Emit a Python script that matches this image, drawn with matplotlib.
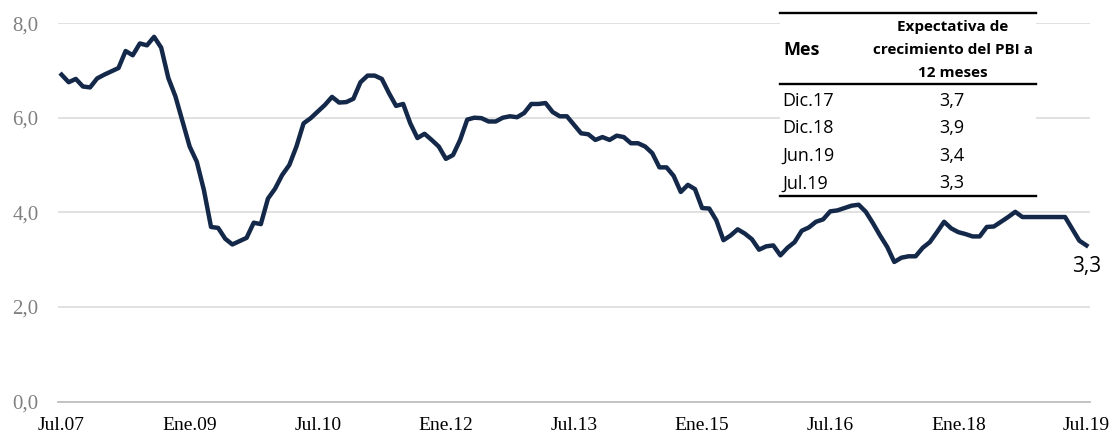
import numpy as np
import matplotlib.pyplot as plt

# Expectativa de crecimiento del PBI a 12 meses, mensual Jul.07 - Jul.19
expectativa = [
    6.91, 6.75, 6.82, 6.66, 6.64, 6.83, 6.91, 6.98, 7.05, 7.41, 7.32, 7.57,
    7.53, 7.71, 7.48, 6.84, 6.45, 5.92, 5.39, 5.07, 4.47, 3.69, 3.67, 3.44,
    3.32, 3.39, 3.46, 3.78, 3.75, 4.29, 4.50, 4.79, 5.00, 5.39, 5.88, 5.99,
    6.13, 6.27, 6.44, 6.32, 6.33, 6.40, 6.75, 6.89, 6.89, 6.82, 6.52, 6.25,
    6.29, 5.88, 5.57, 5.66, 5.53, 5.39, 5.13, 5.21, 5.53, 5.96, 6.00, 5.99,
    5.92, 5.92, 6.00, 6.03, 6.01, 6.10, 6.29, 6.29, 6.31, 6.12, 6.03, 6.03,
    5.85, 5.67, 5.65, 5.53, 5.59, 5.53, 5.62, 5.59, 5.46, 5.46, 5.39, 5.25,
    4.95, 4.95, 4.77, 4.43, 4.58, 4.49, 4.09, 4.08, 3.83, 3.41, 3.51, 3.64,
    3.55, 3.43, 3.21, 3.28, 3.30, 3.09, 3.25, 3.37, 3.61, 3.68, 3.80, 3.85,
    4.02, 4.04, 4.09, 4.14, 4.16, 4.01, 3.77, 3.51, 3.27, 2.95, 3.04, 3.07,
    3.07, 3.25, 3.37, 3.58, 3.80, 3.66, 3.58, 3.54, 3.49, 3.49, 3.69, 3.70,
    3.80, 3.90, 4.01, 3.90, 3.90, 3.90, 3.90, 3.90, 3.90, 3.90, 3.65, 3.40,
    3.30,
]

etiquetas_x = ['Jul.07', 'Ene.09', 'Jul.10', 'Ene.12', 'Jul.13',
               'Ene.15', 'Jul.16', 'Ene.18', 'Jul.19']
paso_etiquetas = 18  # meses entre etiquetas

# Tabla del recuadro
tabla_meses = ['Dic.17', 'Dic.18', 'Jun.19', 'Jul.19']
tabla_valores = [3.7, 3.9, 3.4, 3.3]
ultimo_valor = 3.3

AZUL = '#14294a'
W, H = 1115, 441

fig = plt.figure(figsize=(W / 100, H / 100), dpi=100)
ax = fig.add_axes([58 / W, (H - 401.5) / H, (1090 - 58) / W, (401.5 - 23.1) / H])

x = np.arange(len(expectativa))
ax.plot(x, expectativa, color=AZUL, linewidth=3.2, solid_joinstyle='round', zorder=3)

ax.set_xlim(-0.5, len(expectativa) - 0.5)
ax.set_ylim(0, 8)
ax.set_yticks([0, 2, 4, 6, 8])
ax.set_yticklabels([f'{v:.1f}'.replace('.', ',') for v in [0, 2, 4, 6, 8]],
                   family='Liberation Serif', fontsize=15, color='#808080')
ax.set_xticks(np.arange(0, len(expectativa), paso_etiquetas))
ax.set_xticklabels(etiquetas_x, family='Liberation Serif', fontsize=14, color='black')
ax.tick_params(axis='both', length=0)
ax.tick_params(axis='y', pad=14)
ax.tick_params(axis='x', pad=11)

ax.grid(axis='y', color='#d9d9d9', linewidth=1.1)
ax.set_axisbelow(True)
for lado in ['top', 'right', 'left']:
    ax.spines[lado].set_visible(False)
ax.spines['bottom'].set_color('#bfbfbf')
ax.spines['bottom'].set_linewidth(1.3)

ax.annotate(f'{ultimo_valor:.1f}'.replace('.', ','), xy=(x[-1], expectativa[-1]),
            xytext=(0, -15.5), textcoords='offset points', ha='center', va='center',
            family='Open Sans', fontsize=15, color='black')

# Recuadro con la tabla (coordenadas en pixeles de la figura)
tab = fig.add_axes([780 / W, (H - 196) / H, 256 / W, 184 / H])
tab.set_facecolor('white')
tab.set_xlim(780, 1036)
tab.set_ylim(196, 12)
tab.set_xticks([])
tab.set_yticks([])
for lado in tab.spines:
    tab.spines[lado].set_visible(False)

for yl in [12.5, 84.3, 195.5]:
    tab.plot([780, 1036], [yl, yl], color='black', linewidth=1.7, clip_on=False)

tab.text(783, 50, 'Mes', family='Open Sans', fontweight='bold', fontsize=13,
         ha='left', va='center')
encabezado = ['Expectativa de', 'crecimiento del PBI a', '12 meses']
for k, linea in enumerate(encabezado):
    tab.text(953, 27 + 23 * k, linea, family='Open Sans', fontweight='bold',
             fontsize=11, ha='center', va='center')

for k, (mes, val) in enumerate(zip(tabla_meses, tabla_valores)):
    yy = 100.5 + 27.6 * k
    tab.text(782, yy, mes, family='Open Sans', fontsize=13, ha='left', va='center')
    tab.text(952, yy, f'{val:.1f}'.replace('.', ','), family='Open Sans',
             fontsize=13, ha='center', va='center')

fig.savefig('out.png', dpi=100)
